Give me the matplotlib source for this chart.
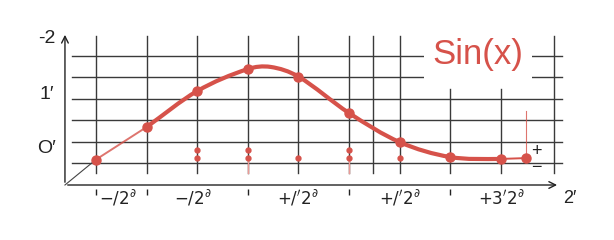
import matplotlib
matplotlib.use("Agg")
import matplotlib.pyplot as plt
from matplotlib.path import Path
from matplotlib.patches import PathPatch
import numpy as np

plt.rcParams['font.family'] = ['Liberation Sans', 'DejaVu Sans']

# marked points of the curve (x in grid steps, y in grid rows)
pt_x = [0, 1, 2, 3, 4, 5, 6, 7, 8, 8.5]
pt_y = [0.16, 1.68, 3.36, 4.39, 4.04, 2.34, 0.98, 0.28, 0.19, 0.23]

# knots of the thick smooth curve
curve_x = [1, 2, 3, 3.45, 4, 5, 6, 7, 8]
curve_y = [1.68, 3.36, 4.39, 4.49, 4.04, 2.34, 0.98, 0.28, 0.19]

# small dots below the curve
dot_x = [2, 2, 3, 3, 4, 5, 5, 6]
dot_y = [0.61, 0.23, 0.61, 0.23, 0.23, 0.61, 0.23, 0.23]

grid_rows = [0, 1, 2, 3, 4, 5]
grid_cols = [0, 1, 2, 3, 4, 5, 5.47, 6, 9.05]
short_cols = [7, 8]

x_labels = ['$-/2^{\\partial}$', '$-/2^{\\partial}$', '$+/\'2^{\\partial}$', '$+/\'2^{\\partial}$', '$+3\'2^{\\partial}$']
x_label_pos = [0.43, 1.92, 4.0, 6.0, 8.02]
tick_pos = [0, 1, 3, 5, 7]
y_labels = ['-2', "1′", "O′"]
y_label_pos = [5.84, 3.22, 0.70]

red = '#d6524a'
pink = '#eb9a95'
dark = '#3a3a3a'


def smooth_path(xs, ys):
    # cubic hermite through the knots, as bezier segments
    xs = np.asarray(xs, float)
    ys = np.asarray(ys, float)
    n = len(xs)
    m = np.zeros(n)
    for i in range(n):
        a = max(i - 1, 0)
        b = min(i + 1, n - 1)
        m[i] = (ys[b] - ys[a]) / (xs[b] - xs[a])
    m[-1] = 0.0
    verts = [(xs[0], ys[0])]
    codes = [Path.MOVETO]
    for i in range(n - 1):
        h = xs[i + 1] - xs[i]
        verts += [(xs[i] + h / 3, ys[i] + m[i] * h / 3),
                  (xs[i + 1] - h / 3, ys[i + 1] - m[i + 1] * h / 3),
                  (xs[i + 1], ys[i + 1])]
        codes += [Path.CURVE4] * 3
    return Path(verts, codes)


fig = plt.figure(figsize=(6.14, 2.4), dpi=100)
ax = fig.add_axes([0, 0, 1, 1])
ax.set_xlim(-1.897, 10.24)
ax.set_ylim(-3.598, 7.617)
ax.axis('off')

# grid
for r in grid_rows:
    ax.plot([-0.47, 9.21], [r, r], color=dark, lw=1.0, zorder=1)
for c in grid_cols:
    ax.plot([c, c], [-0.47, 5.93], color=dark, lw=1.0, zorder=1)
for c in short_cols:
    ax.plot([c, c], [-0.47, 3.46], color=dark, lw=1.0, zorder=1)

# axes with open arrowheads
ax.annotate('', xy=(-0.613, 6.12), xytext=(-0.613, -1.028),
            arrowprops=dict(arrowstyle='->', lw=1.0, color='#222222', mutation_scale=12))
ax.annotate('', xy=(9.17, -1.028), xytext=(-0.613, -1.028),
            arrowprops=dict(arrowstyle='->', lw=1.0, color='#222222', mutation_scale=12))
ax.plot([-0.613, pt_x[0]], [-1.028, pt_y[0]], color='#444444', lw=0.8, zorder=2)

# curve
ax.plot(pt_x[:2], pt_y[:2], color=red, lw=1.4, alpha=0.8, zorder=3)
ax.add_patch(PathPatch(smooth_path(curve_x, curve_y), fc='none', ec=red, lw=3.0,
                       capstyle='round', joinstyle='round', zorder=3))
ax.plot(pt_x[-2:], pt_y[-2:], color=red, lw=1.4, zorder=3)
ax.plot(pt_x, pt_y, 'o', color=red, ms=6.5, zorder=4)

# small dots and thin red stems
ax.plot(dot_x, dot_y, 'o', color=red, ms=3.5, zorder=4)
for c in [3, 5]:
    ax.plot([c, c], [0.23, -0.47], color=pink, lw=1.0, zorder=2)
ax.plot([8.5, 8.5], [0.23, 2.43], color=red, lw=0.8, alpha=0.8, zorder=2)

# title with white box breaking the grid
ax.text(7.55, 5.05, 'Sin(x)', color=red, fontsize=25, ha='center', va='center',
        bbox=dict(boxstyle='square,pad=0.25', fc='white', ec='none'), zorder=5)

ax.text(8.71, 0.55, '+', fontsize=13, ha='center', va='center', color='#222222', zorder=6)
ax.text(8.71, -0.22, '−', fontsize=13, ha='center', va='center', color='#222222', zorder=6)

# tick labels
for lab, xp in zip(x_labels, x_label_pos):
    ax.text(xp, -1.64, lab, fontsize=12, ha='center', va='center', color='#222222')
ax.plot(tick_pos, [-1.36] * len(tick_pos), '|', color='#222222', ms=5, mew=1.0)
ax.text(9.37, -1.68, "2′", fontsize=13, ha='center', va='center', color='#222222')
for lab, yp in zip(y_labels, y_label_pos):
    ax.text(-0.97, yp, lab, fontsize=14, ha='center', va='center', color='#222222')

fig.savefig('out.png', dpi=100, facecolor='white')
